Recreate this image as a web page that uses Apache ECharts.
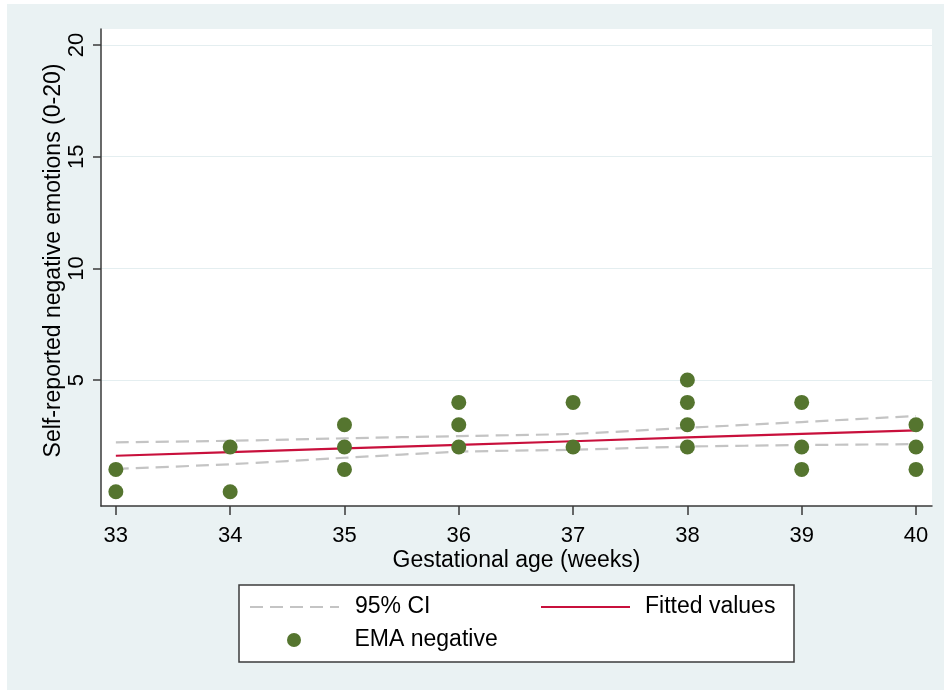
<!DOCTYPE html>
<html>
<head>
<meta charset="utf-8">
<script src="https://cdn.jsdelivr.net/npm/echarts@6/dist/echarts.min.js"></script>
<style>
  html, body { margin: 0; padding: 0; background: #ffffff; }
  #chart { position: absolute; left: 7px; top: 4px; width: 937px; height: 686px; }
</style>
</head>
<body>
<div id="chart"></div>
<script>
// ---- data ----
var weeks = [33, 34, 35, 36, 37, 38, 39, 40];
var fittedValues = [1.61, 1.77, 1.94, 2.10, 2.26, 2.43, 2.59, 2.75];
var ciUpper = [2.21, 2.28, 2.39, 2.49, 2.59, 2.86, 3.12, 3.39];
var ciLower = [1.02, 1.23, 1.52, 1.79, 1.88, 2.02, 2.09, 2.13];
var emaWeeks  = [33, 33, 34, 34, 35, 35, 35, 36, 36, 36, 37, 37, 38, 38, 38, 38, 39, 39, 39, 40, 40, 40];
var emaValues = [0, 1, 0, 2, 1, 2, 3, 2, 3, 4, 2, 4, 2, 3, 4, 5, 1, 2, 4, 1, 2, 3];
var xTicks = [33, 34, 35, 36, 37, 38, 39, 40];
var yTicks = [5, 10, 15, 20];

var FONT = 'Liberation Sans, Arial, Helvetica, sans-serif';
function pairs(xs, ys) { return xs.map(function (x, i) { return [x, ys[i]]; }); }

var hiddenSymbol = { opacity: 0, color: 'transparent', borderColor: 'transparent', borderWidth: 0 };

var chart = echarts.init(document.getElementById('chart'), null, { renderer: 'canvas' });
var option = {
  backgroundColor: '#eaf2f3',
  animation: false,
  textStyle: { fontFamily: FONT, color: '#000' },
  grid: {
    left: 94, top: 25, right: 12, bottom: 184,
    show: true, backgroundColor: '#ffffff', borderWidth: 0
  },
  xAxis: {
    type: 'value',
    min: 32.87, max: 40.14,
    name: 'Gestational age (weeks)',
    nameLocation: 'middle',
    nameGap: 43,
    nameMoveOverlap: false,
    nameTextStyle: { fontSize: 23, color: '#000', fontFamily: FONT },
    axisLine: { show: true, onZero: false, lineStyle: { color: '#3a3a3a', width: 1.5 } },
    axisTick: { show: true, length: 9, customValues: xTicks, lineStyle: { color: '#3a3a3a', width: 1.5 } },
    axisLabel: { customValues: xTicks, margin: 19, fontSize: 22, color: '#000', fontFamily: FONT },
    splitLine: { show: false }
  },
  yAxis: {
    type: 'value',
    min: -0.64, max: 20.72,
    name: 'Self-reported negative emotions (0-20)',
    nameLocation: 'middle',
    nameRotate: 90,
    nameGap: 36,
    nameMoveOverlap: false,
    nameTextStyle: { fontSize: 23, color: '#000', fontFamily: FONT, padding: [0, 0, 0, 14] },
    axisLine: { show: true, onZero: false, lineStyle: { color: '#3a3a3a', width: 1.5 } },
    axisTick: { show: true, length: 8, customValues: yTicks, lineStyle: { color: '#3a3a3a', width: 1.5 } },
    axisLabel: { customValues: yTicks, rotate: 90, margin: 13, fontSize: 22, color: '#000', fontFamily: FONT },
    splitLine: { show: true, customValues: yTicks, lineStyle: { color: '#e4eef0', width: 1.2 } }
  },
  legend: [
    {
      data: [{ name: '95% CI', itemStyle: hiddenSymbol }], left: 242, top: 591.5, padding: 0,
      itemWidth: 89, itemHeight: 14, selectedMode: false,
      textStyle: { fontSize: 23, color: '#000', fontFamily: FONT, padding: [0, 0, 0, 11] }
    },
    {
      data: [{ name: 'Fitted values', itemStyle: hiddenSymbol }], left: 533, top: 591.5, padding: 0,
      itemWidth: 89, itemHeight: 14, selectedMode: false,
      textStyle: { fontSize: 23, color: '#000', fontFamily: FONT, padding: [0, 0, 0, 10] }
    },
    {
      data: [{ name: 'EMA negative', icon: 'circle' }], left: 280, top: 624.5, padding: 0,
      itemWidth: 89, itemHeight: 14, selectedMode: false,
      textStyle: { fontSize: 23, color: '#000', fontFamily: FONT, padding: [0, 0, 0, 11] }
    }
  ],
  graphic: [
    {
      type: 'rect', z: 0,
      shape: { x: 232, y: 581, width: 555, height: 77 },
      style: { fill: '#ffffff', stroke: '#3c3c3c', lineWidth: 1.5 }
    }
  ],
  series: [
    {
      name: '95% CI', type: 'line', data: pairs(weeks, ciUpper),
      showSymbol: false, symbol: 'none', smooth: 0.2,
      lineStyle: { color: '#c4c4c4', width: 2.2, type: [13, 7] }, itemStyle: { color: '#c4c4c4' },
      z: 2
    },
    {
      name: '95% CI', type: 'line', data: pairs(weeks, ciLower),
      showSymbol: false, symbol: 'none', smooth: 0.2,
      lineStyle: { color: '#c4c4c4', width: 2.2, type: [13, 7] }, itemStyle: { color: '#c4c4c4' },
      z: 2
    },
    {
      name: 'Fitted values', type: 'line', data: pairs(weeks, fittedValues),
      showSymbol: false, symbol: 'none',
      lineStyle: { color: '#c8103c', width: 2.2 }, itemStyle: { color: '#c8103c' },
      z: 3
    },
    {
      name: 'EMA negative', type: 'scatter', data: pairs(emaWeeks, emaValues),
      symbol: 'circle', symbolSize: 15,
      itemStyle: { color: '#55752f', opacity: 1 },
      z: 4
    }
  ]
};
chart.setOption(option);
</script>
</body>
</html>
